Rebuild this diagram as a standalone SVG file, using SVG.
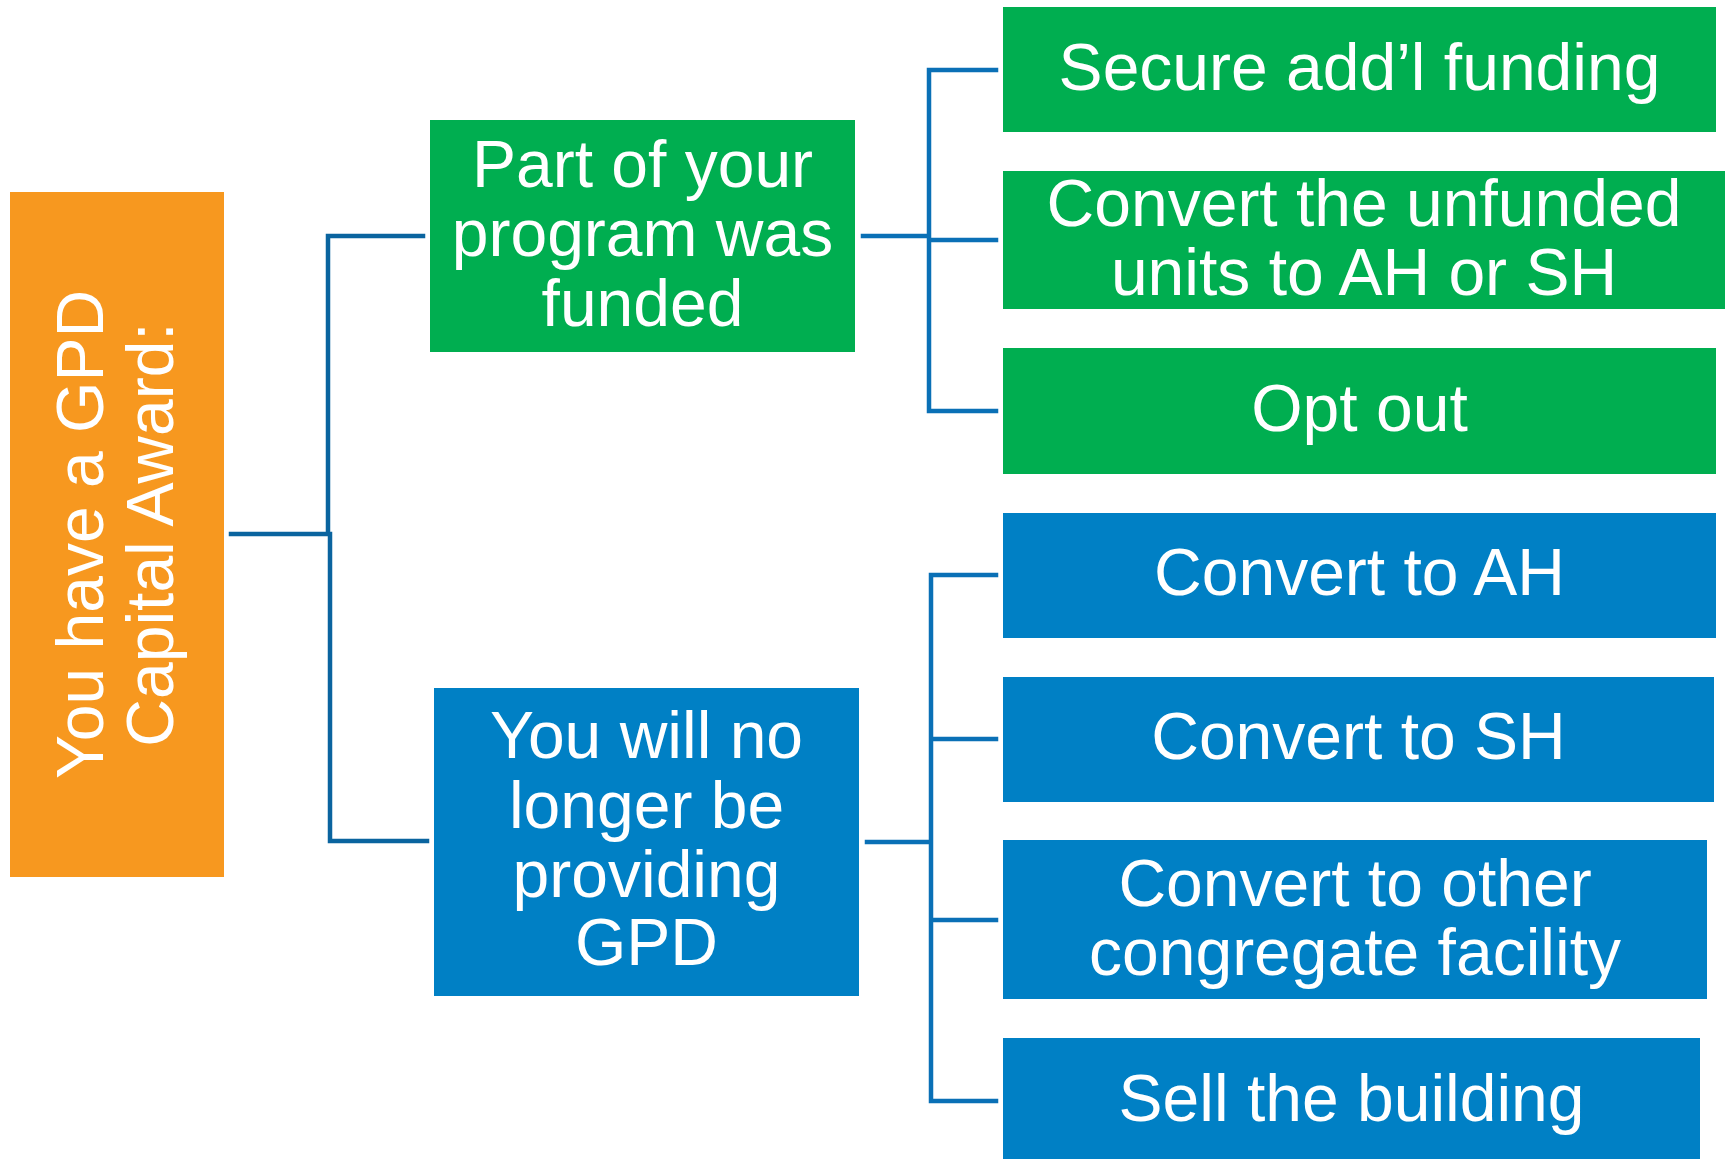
<svg xmlns="http://www.w3.org/2000/svg" width="1727" height="1159" viewBox="0 0 1727 1159">
<style>
.t{font-family:"Liberation Sans",Arial,sans-serif;font-size:66px;fill:#ffffff;text-anchor:middle}
.org{fill:#F7981F}
.grn{fill:#00AE50}
.blu{fill:#0080C5}
.cl{stroke:#0A649F;stroke-width:4.5;fill:none;stroke-linecap:square}
.cr{stroke:#0A70B6;stroke-width:4.5;fill:none;stroke-linecap:square}
</style>
<rect width="1727" height="1159" fill="#ffffff"/>
<g id="connectors">
<path class="cl" d="M231 534 H330 M328 534 V236 H423 M330 534 V841 H427"/>
<path class="cr" d="M863 236 H929 M929 70 V411 M929 70 H996 M929 240 H996 M929 411 H996"/>
<path class="cr" d="M867 842 H931 M931 575 V1101 M931 575 H996 M931 739 H996 M931 920 H996 M931 1101 H996"/>
</g>
<g id="root">
<rect class="org" x="10" y="192" width="214" height="685"/>
<g transform="translate(0,534.5) rotate(-90)">
<text class="t" x="0" y="103">You have a GPD</text>
<text class="t" x="0" y="173">Capital Award:</text>
</g>
</g>
<g id="funded">
<rect class="grn" x="430" y="120" width="425" height="232"/>
<text class="t" x="642.5" y="187">Part of your</text>
<text class="t" x="642.5" y="256">program was</text>
<text class="t" x="642.5" y="326">funded</text>
</g>
<g id="nolonger">
<rect class="blu" x="434" y="688" width="425" height="308"/>
<text class="t" x="646.5" y="758">You will no</text>
<text class="t" x="646.5" y="828">longer be</text>
<text class="t" x="646.5" y="897">providing</text>
<text class="t" x="646.5" y="965">GPD</text>
</g>
<g id="secure">
<rect class="grn" x="1003" y="7" width="713" height="125"/>
<text class="t" x="1359.5" y="90">Secure add’l funding</text>
</g>
<g id="unfunded">
<rect class="grn" x="1003" y="171" width="722" height="138"/>
<text class="t" x="1364" y="226">Convert the unfunded</text>
<text class="t" x="1364" y="295">units to AH or SH</text>
</g>
<g id="optout">
<rect class="grn" x="1003" y="348" width="713" height="126"/>
<text class="t" x="1359.5" y="431">Opt out</text>
</g>
<g id="ah">
<rect class="blu" x="1003" y="513" width="713" height="125"/>
<text class="t" x="1359.5" y="595">Convert to AH</text>
</g>
<g id="sh">
<rect class="blu" x="1003" y="677" width="711" height="125"/>
<text class="t" x="1358.5" y="759">Convert to SH</text>
</g>
<g id="other">
<rect class="blu" x="1003" y="840" width="704" height="159"/>
<text class="t" x="1355" y="906">Convert to other</text>
<text class="t" x="1355" y="975">congregate facility</text>
</g>
<g id="sell">
<rect class="blu" x="1003" y="1038" width="697" height="121"/>
<text class="t" x="1351.5" y="1121">Sell the building</text>
</g>
</svg>
